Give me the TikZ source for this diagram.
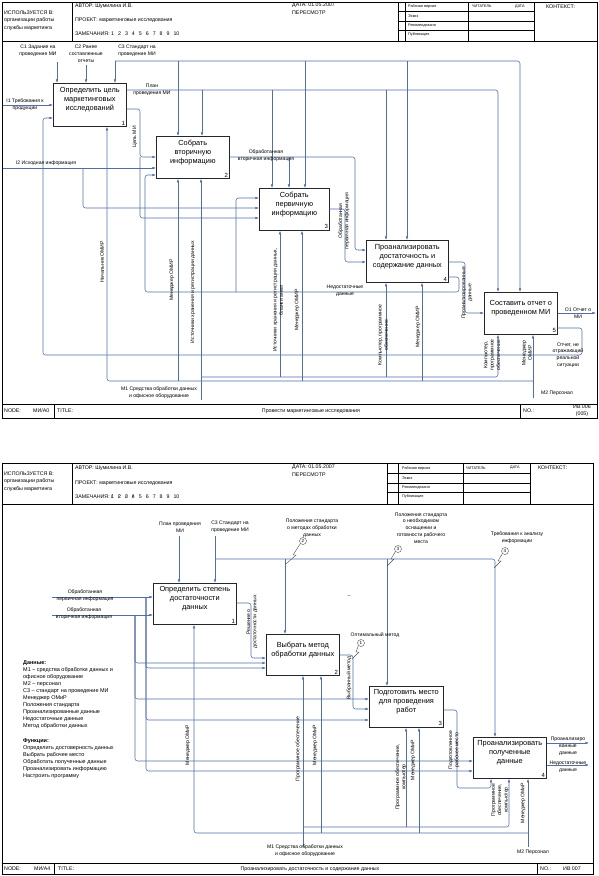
\documentclass[tikz,border=0pt]{standalone}
\usepackage{fontspec}
\setmainfont{Liberation Sans}
\usetikzlibrary{arrows.meta}
\definecolor{idefblue}{RGB}{82,110,168}
\newcommand{\numgap}{\hspace{4pt}}
\newcommand{\struck}[1]{\makebox[0pt][l]{/}#1}
\tikzset{
  box/.style={draw=black!85, line width=0.7pt, fill=white, anchor=north west,
    inner sep=0pt, align=center, font=\fontsize{7.4}{9}\selectfont},
  num/.style={anchor=south east, inner sep=1.5pt, font=\fontsize{6}{7}\selectfont},
  flow/.style={draw=idefblue, line width=0.55pt, rounded corners=2.5,
    -{Latex[length=3.6pt,width=2.6pt]}},
  lbl/.style={inner sep=0pt, align=center, font=\fontsize{5.1}{6.8}\selectfont},
  vlbl/.style={lbl, rotate=90, font=\fontsize{5.1}{6.3}\selectfont},
  hdr/.style={anchor=west, inner sep=0pt, font=\fontsize{5.3}{6}\selectfont},
  tinytxt/.style={anchor=west, inner sep=0pt, font=\fontsize{3.8}{4.5}\selectfont},
  sheet/.style={draw=black, line width=0.8pt},
  rule/.style={draw=black, line width=0.4pt},
  tunnel/.style={circle, draw=black!70, line width=0.4pt, inner sep=0pt,
    minimum size=7bp, font=\fontsize{4.6}{5}\selectfont},
  zigzag/.style={draw=black!70, line width=0.4pt},
}
\begin{document}
\begin{tikzpicture}[x=1bp,y=-1bp]
\useasboundingbox (0,0) rectangle (599,876);

% ---------------- sheet 1: A0 ----------------
\draw[sheet] (2,2) rectangle (597,418);
\draw[rule] (2,41) -- (597,41) (72,2) -- (72,41);
\draw[rule] (398,2) -- (398,41) (405,2) -- (405,41) (468,2) -- (468,41) (534,2) -- (534,41);
\draw[rule] (398,11) -- (534,11) (398,21) -- (534,21) (398,30) -- (534,30);
\draw[rule] (2,404) -- (597,404) (54,404) -- (54,418) (520,404) -- (520,418);

\node[hdr] (h1a) at (4,13) {ИСПОЛЬЗУЕТСЯ В:};
\node[hdr] (h1b) at (4,20.5) {организации работы};
\node[hdr] (h1c) at (4,28) {службы маркетинга};
\node[hdr] (h1d) at (75,6) {АВТОР: Шумилина И.В.};
\node[hdr] (h1e) at (75,20) {ПРОЕКТ: маркетинговые исследования};
\node[hdr] (h1f) at (75,34) {ЗАМЕЧАНИЯ: 1\numgap2\numgap3\numgap4\numgap5\numgap6\numgap7\numgap8\numgap9\numgap10};
\node[hdr] (h1g) at (292,5.5) {ДАТА: 01.05.2007};
\node[hdr] (h1h) at (292,12.5) {ПЕРЕСМОТР};
\node[tinytxt] (h1i) at (408,6.5) {Рабочая версия};
\node[tinytxt] (h1j) at (408,16) {Эскиз};
\node[tinytxt] (h1k) at (408,25.5) {Рекомендовано};
\node[tinytxt] (h1l) at (408,35) {Публикация};
\node[tinytxt] (h1m) at (472,6.5) {ЧИТАТЕЛЬ};
\node[tinytxt] (h1n) at (515,6.5) {ДАТА};
\node[hdr] (h1o) at (546,6.5) {КОНТЕКСТ:};
\node[hdr] (f1a) at (4,411) {NODE:};
\node[hdr] (f1b) at (33,411) {МИ/А0};
\node[hdr] (f1c) at (57,411) {TITLE:};
\node[hdr, anchor=center] (f1d) at (311,411) {Провести маркетинговые исследования};
\node[hdr] (f1e) at (523,411) {NO.:};
\node[hdr, anchor=center] (f1f) at (582,407) {ИВ 006};
\node[hdr, anchor=center] (f1g) at (582,414) {(005)};

% activities
\node[box, minimum width=73bp, minimum height=43bp] (b1) at (53,83) {Определить цель\\маркетинговых\\исследований\\ \strut};
\node[box, minimum width=73bp, minimum height=42bp] (b2) at (156,136) {Собрать\\вторичную\\информацию\\ \strut};
\node[box, minimum width=70bp, minimum height=42bp] (b3) at (259,188) {Собрать\\первичную\\информацию\\ \strut};
\node[box, minimum width=82bp, minimum height=42bp] (b4) at (366,240) {Проанализировать\\достаточность и\\содержание данных\\ \strut};
\node[box, minimum width=73bp, minimum height=42bp] (b5) at (484,292) {Составить отчет о\\проведенном МИ\\ \strut};
\node[num] (b1n) at (b1.south east) {1};
\node[num] (b2n) at (b2.south east) {2};
\node[num] (b3n) at (b3.south east) {3};
\node[num] (b4n) at (b4.south east) {4};
\node[num] (b5n) at (b5.south east) {5};

% controls
\coordinate (c1) at (57,62);
\coordinate (c2) at (86,65);
\coordinate (c3) at (115,61);
\draw[flow] (c1) -- (c1 |- b1.north);
\draw[flow] (c2) -- (c2 |- b1.north);
\draw[flow] (c3) -- (c3 |- b1.north);
\draw[flow] (c3) -| (b5.north -| 520,0);
\foreach \x/\b in {178/b2,305/b3,407/b4}
  \draw[flow] (\x,61) -- (\b.north -| \x,0);
\draw[flow] (b1.east |- 0,90) -| (b5.north -| 498,0);
\foreach \x/\b in {202/b2,272/b3,386/b4}
  \draw[flow] (\x,90) -- (\b.north -| \x,0);

% inputs and outputs
\coordinate (i1) at (3,105);
\coordinate (i2) at (3,168);
\draw[flow] (i1) -- (i1 -| b1.west);
\draw[flow] (i2) -- (i2 -| b2.west);
\draw[flow] (83,168) |- (b3.west |- 0,208);
\draw[flow] (b1.east |- 0,109) -| (140,157) -- (b2.west |- 0,157);
\draw[flow] (140,157) |- (b3.west |- 0,218);
\draw[flow] (b2.east |- 0,157) -| (355,250) -- (b4.west |- 0,250);
\draw[flow] (289,157) -- (b3.north -| 289,0);
\draw[flow] (b3.east |- 0,209) -| (345,262) -- (b4.west |- 0,262);
\draw[flow] (b4.east |- 0,262) -| (465,313) -- (b5.west |- 0,313);
\draw[flow] (b4.east |- 0,277) -| (459,292) -| (145,175) -- (b2.west |- 0,175);
\draw[flow] (236,292) |- (b3.west |- 0,198);
\coordinate (o1) at (596,313);
\draw[flow] (b5.east |- 0,313) -- (o1);
\draw[flow] (b5.east |- 0,328) -| (582,355) -| (43,118) -- (b1.west |- 0,118);

% mechanisms
\coordinate (m1) at (201,400);
\coordinate (m2) at (533,398);
\draw[flow] (m1) -- (m1 |- b2.south);
\draw[flow] (201,377) -| (b5.south -| 498,0);
\foreach \x/\b in {280/b3,386/b4}
  \draw[flow] (\x,377) -- (\b.south -| \x,0);
\draw[flow] (m2) -- (m2 |- b5.south);
\draw[flow] (533,381) -| (b1.south -| 107,0);
\foreach \x/\b in {178/b2,302/b3,422/b4}
  \draw[flow] (\x,381) -- (\b.south -| \x,0);

% labels
\node[lbl] (lc1) at (38,51) {C1 Задание на\\проведение МИ};
\node[lbl] (lc2) at (86,54) {C2 Ранее\\составленные\\отчеты};
\node[lbl] (lc3) at (137,51) {C3 Стандарт на\\проведение МИ};
\node[lbl] (li1) at (25,105) {I1 Требования к\\продукции};
\node[lbl] (lpl) at (152,90) {План\\проведения МИ};
\node[lbl] (li2) at (46,163) {I2 Исходная информация};
\node[lbl] (lvt) at (266,156) {Обработанная\\вторичная информация};
\node[lbl] (lnd) at (345,291) {Недостаточные\\данные};
\node[lbl] (lo1) at (578,313) {O1 Отчет о\\МИ};
\node[lbl] (lfb) at (568,355) {Отчет, не\\отражающий\\реальной\\ситуации};
\node[lbl] (lm1) at (159,393) {M1 Средства обработки данных\\и офисное оборудование};
\node[lbl] (lm2) at (557,393) {M2 Персонал};
\node[vlbl] (lcel) at (135,137) {Цель МИ};
\node[vlbl] (lpv) at (344,221) {Обработанная\\первичная информация};
\node[vlbl] (lan) at (467,293) {Проанализированные\\данные};
\node[vlbl] (lmr1) at (102,262) {Начальник ОМИР};
\node[vlbl] (lmr2) at (172,280) {Менеджер ОМИР};
\node[vlbl] (lsr2) at (193,292) {Источники хранения и регистрации данных};
\node[vlbl] (lsr3) at (278,300) {Источники хранения и регистрации данных,\\бланки анкет};
\node[vlbl] (lmr3) at (297,310) {Менеджер ОМИР};
\node[vlbl] (lpc4) at (383,335) {Компьютер, программное\\обеспечение};
\node[vlbl] (lmr4) at (418,327) {Менеджер ОМИР};
\node[vlbl] (lpc5) at (492,355) {Компьютер,\\программное\\обеспечение};
\node[vlbl] (lmr5) at (527,353) {Менеджер\\ОМИР};

% ---------------- sheet 2: A4 ----------------
\draw[sheet] (2,463) rectangle (593,874);
\draw[rule] (2,504) -- (593,504) (72,463) -- (72,504);
\draw[rule] (387,463) -- (387,504) (398,463) -- (398,504) (463,463) -- (463,504) (530,463) -- (530,504);
\draw[rule] (387,473) -- (530,473) (387,483) -- (530,483) (387,492) -- (530,492);
\draw[rule] (2,863) -- (593,863) (54,863) -- (54,874) (537,863) -- (537,874);

\node[hdr] (h2a) at (4,474) {ИСПОЛЬЗУЕТСЯ В:};
\node[hdr] (h2b) at (4,481.5) {организации работы};
\node[hdr] (h2c) at (4,489) {службы маркетинга};
\node[hdr] (h2d) at (75,468) {АВТОР: Шумилина И.В.};
\node[hdr] (h2e) at (75,483) {ПРОЕКТ: маркетинговые исследования};
\node[hdr] (h2f) at (75,497) {ЗАМЕЧАНИЯ: \struck{1}\numgap\struck{2}\numgap\struck{3}\numgap\struck{4}\numgap5\numgap6\numgap7\numgap8\numgap9\numgap10};
\node[hdr] (h2g) at (292,467.5) {ДАТА: 01.05.2007};
\node[hdr] (h2h) at (292,474.5) {ПЕРЕСМОТР};
\node[tinytxt] (h2i) at (402,468) {Рабочая версия};
\node[tinytxt] (h2j) at (402,478) {Эскиз};
\node[tinytxt] (h2k) at (402,487.5) {Рекомендовано};
\node[tinytxt] (h2l) at (402,496) {Публикация};
\node[tinytxt] (h2m) at (466,468) {ЧИТАТЕЛЬ};
\node[tinytxt] (h2n) at (510,468) {ДАТА};
\node[hdr] (h2o) at (538,468) {КОНТЕКСТ:};
\node[hdr] (f2a) at (4,869) {NODE:};
\node[hdr] (f2b) at (34,869) {МИ/А4};
\node[hdr] (f2c) at (58,869) {TITLE:};
\node[hdr, anchor=center] (f2d) at (310,869) {Проанализировать достаточность и содержание данных};
\node[hdr] (f2e) at (540,869) {NO.:};
\node[hdr] (f2f) at (563,869) {ИВ 007};

% activities
\node[box, minimum width=83bp, minimum height=41bp] (p1) at (153,583) {Определить степень\\достаточности\\данных\\ \strut};
\node[box, minimum width=73bp, minimum height=41bp] (p2) at (266,634) {Выбрать метод\\обработки данных\\ \strut};
\node[box, minimum width=74bp, minimum height=41bp] (p3) at (369,686) {Подготовить место\\для проведения\\работ\\ \strut};
\node[box, minimum width=73bp, minimum height=41bp] (p4) at (473,737) {Проанализировать\\полученные\\данные\\ \strut};
\node[num] (p1n) at (p1.south east) {1};
\node[num] (p2n) at (p2.south east) {2};
\node[num] (p3n) at (p3.south east) {3};
\node[num] (p4n) at (p4.south east) {4};

% controls
\coordinate (q1) at (179,536);
\coordinate (q3) at (215,536);
\draw[flow] (q1) -- (q1 |- p1.north);
\draw[flow] (q3) -- (q3 |- p1.north);
\draw[flow] (215,559) -| (p4.north -| 495,0);
\foreach \x/\b in {285/p2,387/p3}
  \draw[flow] (\x,559) -- (\b.north -| \x,0);

% tunnels
\node[tunnel] (t1) at (361,643) {1};
\node[tunnel] (t2) at (303,541) {2};
\node[tunnel] (t3) at (398,549) {3};
\node[tunnel] (t4) at (505,551) {4};
\draw[zigzag] (t1.south west) -- (356,652) -- (359,652) -- (352,659);
\draw[zigzag] (t2.south west) -- (293,555) -- (296,555) -- (286,564);
\draw[zigzag] (t3.south west) -- (391,559) -- (394,559) -- (387,566);
\draw[zigzag] (t4.south west) -- (498,561) -- (501,561) -- (494,568);

% inputs and outputs
\coordinate (r1) at (52,597);
\coordinate (r2) at (52,615);
\draw[flow] (r1) -- (r1 -| p1.west);
\draw[flow] (r2) -- (r2 -| p1.west);
\draw[flow] (146,597) |- (p2.west |- 0,668);
\draw[flow] (146,597) |- (p3.west |- 0,720);
\draw[flow] (146,597) |- (p4.west |- 0,771);
\draw[flow] (135,615) |- (p2.west |- 0,663);
\draw[flow] (135,615) |- (p3.west |- 0,699);
\draw[flow] (135,615) |- (p4.west |- 0,761);
\draw[flow] (p1.east |- 0,603) -| (251,658) -- (p2.west |- 0,658);
\draw[flow] (p2.east |- 0,655) -| (353,709) -- (p3.west |- 0,709);
\draw[flow] (p3.east |- 0,710) -| (457,788) -| (p4.south -| 491,0);
\coordinate (s1) at (589,743);
\coordinate (s2) at (589,765);
\draw[flow] (p4.east |- s1) -- (s1);
\draw[flow] (p4.east |- s2) -- (s2);

% mechanisms
\coordinate (n1) at (303,847);
\coordinate (n2) at (528,847);
\draw[flow] (n1) -- (n1 |- p2.south);
\draw[flow] (303,827) -| (p4.south -| 509,0);
\draw[flow] (406,827) -- (p3.south -| 406,0);
\draw[flow] (n2) -- (n2 |- p4.south);
\draw[flow] (528,833) -| (p1.south -| 194,0);
\foreach \x/\b in {321/p2,419/p3}
  \draw[flow] (\x,833) -- (\b.south -| \x,0);

% labels
\node[lbl] (kpl) at (180,527) {План проведения\\МИ};
\node[lbl] (kc3) at (230,527) {С3 Стандарт на\\проведение МИ};
\node[lbl] (kt2) at (312,528) {Положения стандарта\\о методах обработки\\данных};
\node[lbl] (kt3) at (421,528) {Положения стандарта\\о необходимом\\оснащении и\\готовности рабочего\\места};
\node[lbl] (kt4) at (517,538) {Требования к анализу\\информации};
\node[lbl] (kt1) at (375,635) {Оптимальный метод};
\node[lbl] (kdash) at (349,597) {–};
\node[lbl] (kpi) at (85,596) {Обработанная\\первичная информация};
\node[lbl] (kvi) at (84,614) {Обработанная\\вторичная информация};
\node[lbl] (kan) at (568,746) {Проанализиро\\ванные\\данные};
\node[lbl] (knd) at (568,767) {Недостаточные\\данные};
\node[lbl] (km1) at (305,851) {M1 Средства обработки данных\\и офисное оборудование};
\node[lbl] (km2) at (533,852) {M2 Персонал};
\node[vlbl] (kds) at (252,622) {Решение о\\достаточности данных};
\node[vlbl] (kvm) at (349,678) {Выбранный метод};
\node[vlbl] (krm) at (454,750) {Подготовленное\\рабочее место};
\node[vlbl] (kmr1) at (188,745) {Менеджер ОМиР};
\node[vlbl] (kpo2) at (298,749) {Программное обеспечение};
\node[vlbl] (kmr2) at (315,745) {Менеджер ОМиР};
\node[vlbl] (kpo3) at (401,777) {Программное обеспечение,\\компьютер};
\node[vlbl] (kmr3) at (413,760) {Менеджер ОМиР};
\node[vlbl] (kpo4) at (500,800) {Программное\\обеспечение,\\компьютер};
\node[vlbl] (kmr4) at (523,803) {Менеджер ОМиР};

% legend
\node[anchor=north west, inner sep=0pt, align=left, font=\fontsize{5.5}{7}\selectfont] (legend) at (23,661)
  {\textbf{Данные:}\\М1 – средства обработки данных и\\офисное оборудование\\М2 – персонал\\С3 – стандарт на проведение МИ\\Менеджер ОМиР\\Положения стандарта\\Проанализированные данные\\Недостаточные данные\\Метод обработки данных\\[8pt]\textbf{Функции:}\\Определить достоверность данных\\Выбрать рабочее место\\Обработать полученные данные\\Проанализировать информацию\\Настроить программу};
\end{tikzpicture}
\end{document}
